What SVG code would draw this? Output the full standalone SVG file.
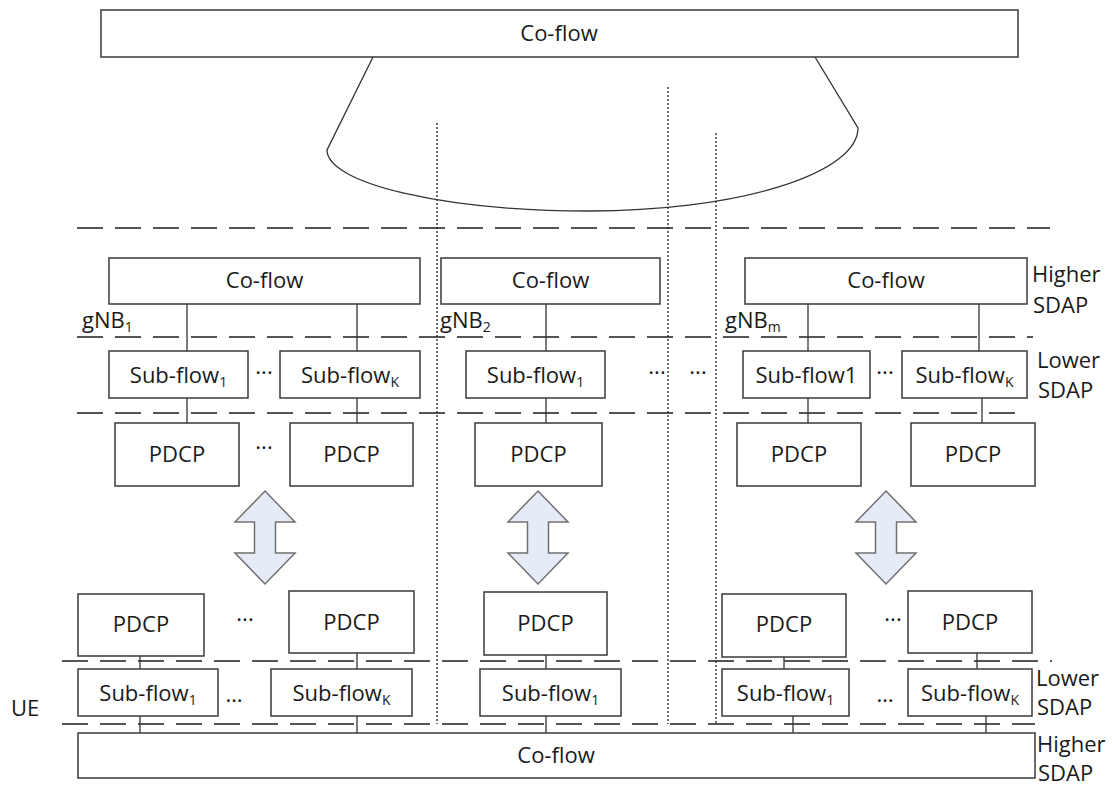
<svg xmlns="http://www.w3.org/2000/svg" xmlns:xlink="http://www.w3.org/1999/xlink" width="1112" height="794" viewBox="0 0 1112 794">
<style>
.box{fill:#fff;stroke:#3a3a3a;stroke-width:1.5}
.t{font-family:"Open Sans","Liberation Sans",sans-serif;font-size:22px;fill:#1a1a1a;text-anchor:middle}
.lbl{font-family:"Open Sans","Liberation Sans",sans-serif;font-size:22px;fill:#1a1a1a}
.sub{font-size:14px}
.dash{stroke:#555;stroke-width:1.8;stroke-dasharray:26 12;fill:none}
.dot{stroke:#222;stroke-width:1.3;stroke-dasharray:2 2;fill:none}
.conn{stroke:#333;stroke-width:1.3;fill:none}
.arrow{fill:#E6ECF7;stroke:#707070;stroke-width:1.5}
</style>
<defs>
<path id="dbl" class="arrow" d="M0,0 L30,31 L10.5,31 L10.5,62 L30,62 L0,93 L-30,62 L-10.5,62 L-10.5,31 L-30,31 Z"/>
</defs>
<rect width="1112" height="794" fill="#fff"/>

<g id="layers">
<line class="dash" x1="77" y1="228" x2="1050" y2="228"/>
<line class="dash" x1="77" y1="337" x2="1033" y2="337"/>
<line class="dash" x1="77" y1="413" x2="1026" y2="413"/>
<line class="dash" x1="62" y1="661" x2="1052" y2="661"/>
<line class="dash" x1="62" y1="724" x2="1035" y2="724"/>
<line class="dot" x1="437" y1="123" x2="437" y2="724"/>
<line class="dot" x1="668" y1="87" x2="668" y2="724"/>
<line class="dot" x1="716" y1="133" x2="716" y2="724"/>
</g>

<g id="connectors">
<path class="conn" d="M373,57 L327,150 A263,61 0 0 0 590,211 A268,83 0 0 0 858,128 L815,57"/>
<line class="conn" x1="187" y1="304" x2="187" y2="351"/>
<line class="conn" x1="357" y1="304" x2="357" y2="351"/>
<line class="conn" x1="187" y1="398" x2="187" y2="423"/>
<line class="conn" x1="357" y1="398" x2="357" y2="423"/>
<line class="conn" x1="546" y1="304" x2="546" y2="351"/>
<line class="conn" x1="546" y1="398" x2="546" y2="423"/>
<line class="conn" x1="808" y1="304" x2="808" y2="351"/>
<line class="conn" x1="979" y1="304" x2="979" y2="351"/>
<line class="conn" x1="808" y1="398" x2="808" y2="423"/>
<line class="conn" x1="982" y1="398" x2="982" y2="423"/>
<line class="conn" x1="140" y1="656" x2="140" y2="669"/>
<line class="conn" x1="140" y1="716" x2="140" y2="733"/>
<line class="conn" x1="357" y1="653" x2="357" y2="669"/>
<line class="conn" x1="357" y1="716" x2="357" y2="733"/>
<line class="conn" x1="546" y1="655" x2="546" y2="669"/>
<line class="conn" x1="546" y1="716" x2="546" y2="733"/>
<line class="conn" x1="784" y1="657" x2="784" y2="669"/>
<line class="conn" x1="793" y1="716" x2="793" y2="733"/>
<line class="conn" x1="977" y1="653" x2="977" y2="669"/>
<line class="conn" x1="986" y1="716" x2="986" y2="733"/>
<use xlink:href="#dbl" href="#dbl" x="265" y="491"/>
<use xlink:href="#dbl" href="#dbl" x="538" y="491"/>
<use xlink:href="#dbl" href="#dbl" x="886" y="491"/>
</g>

<g id="coflow-top">
<rect class="box" x="101" y="10" width="917" height="47"/>
<text class="t" x="559" y="41">Co-flow</text>
</g>

<g id="gnb1">
<rect class="box" x="109" y="258" width="311" height="46"/>
<text class="t" x="264.5" y="288">Co-flow</text>
<text class="lbl" x="82" y="328">gNB<tspan class="sub" dy="4">1</tspan></text>
<rect class="box" x="109" y="351" width="139" height="47"/>
<text class="t" x="178.5" y="383">Sub-flow<tspan class="sub" dy="4">1</tspan></text>
<text class="t" x="264" y="380">···</text>
<rect class="box" x="280" y="351" width="140" height="47"/>
<text class="t" x="350" y="383">Sub-flow<tspan class="sub" dy="4">K</tspan></text>
<rect class="box" x="115" y="423" width="124" height="63"/>
<text class="t" x="177" y="462">PDCP</text>
<text class="t" x="264" y="455">···</text>
<rect class="box" x="290" y="423" width="123" height="63"/>
<text class="t" x="351.5" y="462">PDCP</text>
</g>

<g id="gnb2">
<rect class="box" x="441" y="258" width="219" height="46"/>
<text class="t" x="550.5" y="288">Co-flow</text>
<text class="lbl" x="440" y="328">gNB<tspan class="sub" dy="4">2</tspan></text>
<rect class="box" x="466" y="351" width="139" height="47"/>
<text class="t" x="535.5" y="383">Sub-flow<tspan class="sub" dy="4">1</tspan></text>
<rect class="box" x="475" y="423" width="127" height="63"/>
<text class="t" x="538.5" y="462">PDCP</text>
<text class="t" x="657" y="380">···</text>
<text class="t" x="698" y="380">···</text>
</g>

<g id="gnbm">
<rect class="box" x="745" y="258" width="282" height="46"/>
<text class="t" x="886" y="288">Co-flow</text>
<text class="lbl" x="725" y="328">gNB<tspan class="sub" dy="4">m</tspan></text>
<rect class="box" x="743" y="351" width="127" height="47"/>
<text class="t" x="806.5" y="383">Sub-flow1</text>
<text class="t" x="885" y="380">···</text>
<rect class="box" x="902" y="351" width="125" height="47"/>
<text class="t" x="964.5" y="383">Sub-flow<tspan class="sub" dy="4">K</tspan></text>
<rect class="box" x="737" y="423" width="124" height="63"/>
<text class="t" x="799" y="462">PDCP</text>
<rect class="box" x="911" y="423" width="124" height="63"/>
<text class="t" x="973" y="462">PDCP</text>
</g>

<g id="ue1">
<rect class="box" x="78" y="594" width="126" height="62"/>
<text class="t" x="141" y="632">PDCP</text>
<text class="t" x="245" y="627">···</text>
<rect class="box" x="289" y="591" width="125" height="62"/>
<text class="t" x="351.5" y="630">PDCP</text>
<rect class="box" x="78" y="669" width="140" height="47"/>
<text class="t" x="148" y="701">Sub-flow<tspan class="sub" dy="4">1</tspan></text>
<text class="t" x="234" y="702">…</text>
<rect class="box" x="271" y="669" width="141" height="47"/>
<text class="t" x="341.5" y="701">Sub-flow<tspan class="sub" dy="4">K</tspan></text>
</g>

<g id="ue2">
<rect class="box" x="484" y="592" width="123" height="63"/>
<text class="t" x="545.5" y="631">PDCP</text>
<rect class="box" x="480" y="669" width="141" height="47"/>
<text class="t" x="550.5" y="701">Sub-flow<tspan class="sub" dy="4">1</tspan></text>
</g>

<g id="uem">
<rect class="box" x="722" y="594" width="124" height="63"/>
<text class="t" x="784" y="632">PDCP</text>
<text class="t" x="893" y="627">···</text>
<rect class="box" x="908" y="591" width="124" height="62"/>
<text class="t" x="970" y="630">PDCP</text>
<rect class="box" x="722" y="669" width="127" height="47"/>
<text class="t" x="785.5" y="701">Sub-flow<tspan class="sub" dy="4">1</tspan></text>
<text class="t" x="885" y="702">…</text>
<rect class="box" x="908" y="669" width="124" height="47"/>
<text class="t" x="970" y="701">Sub-flow<tspan class="sub" dy="4">K</tspan></text>
</g>

<g id="coflow-ue">
<rect class="box" x="78" y="733" width="957" height="45"/>
<text class="t" x="556" y="763">Co-flow</text>
</g>

<g id="labels">
<text class="lbl" x="11" y="716">UE</text>
<text class="lbl" x="1032" y="282">Higher</text>
<text class="lbl" x="1033" y="313">SDAP</text>
<text class="lbl" x="1037" y="368">Lower</text>
<text class="lbl" x="1038" y="398">SDAP</text>
<text class="lbl" x="1036" y="686">Lower</text>
<text class="lbl" x="1037" y="715">SDAP</text>
<text class="lbl" x="1037" y="752">Higher</text>
<text class="lbl" x="1038" y="781">SDAP</text>
</g>
</svg>
